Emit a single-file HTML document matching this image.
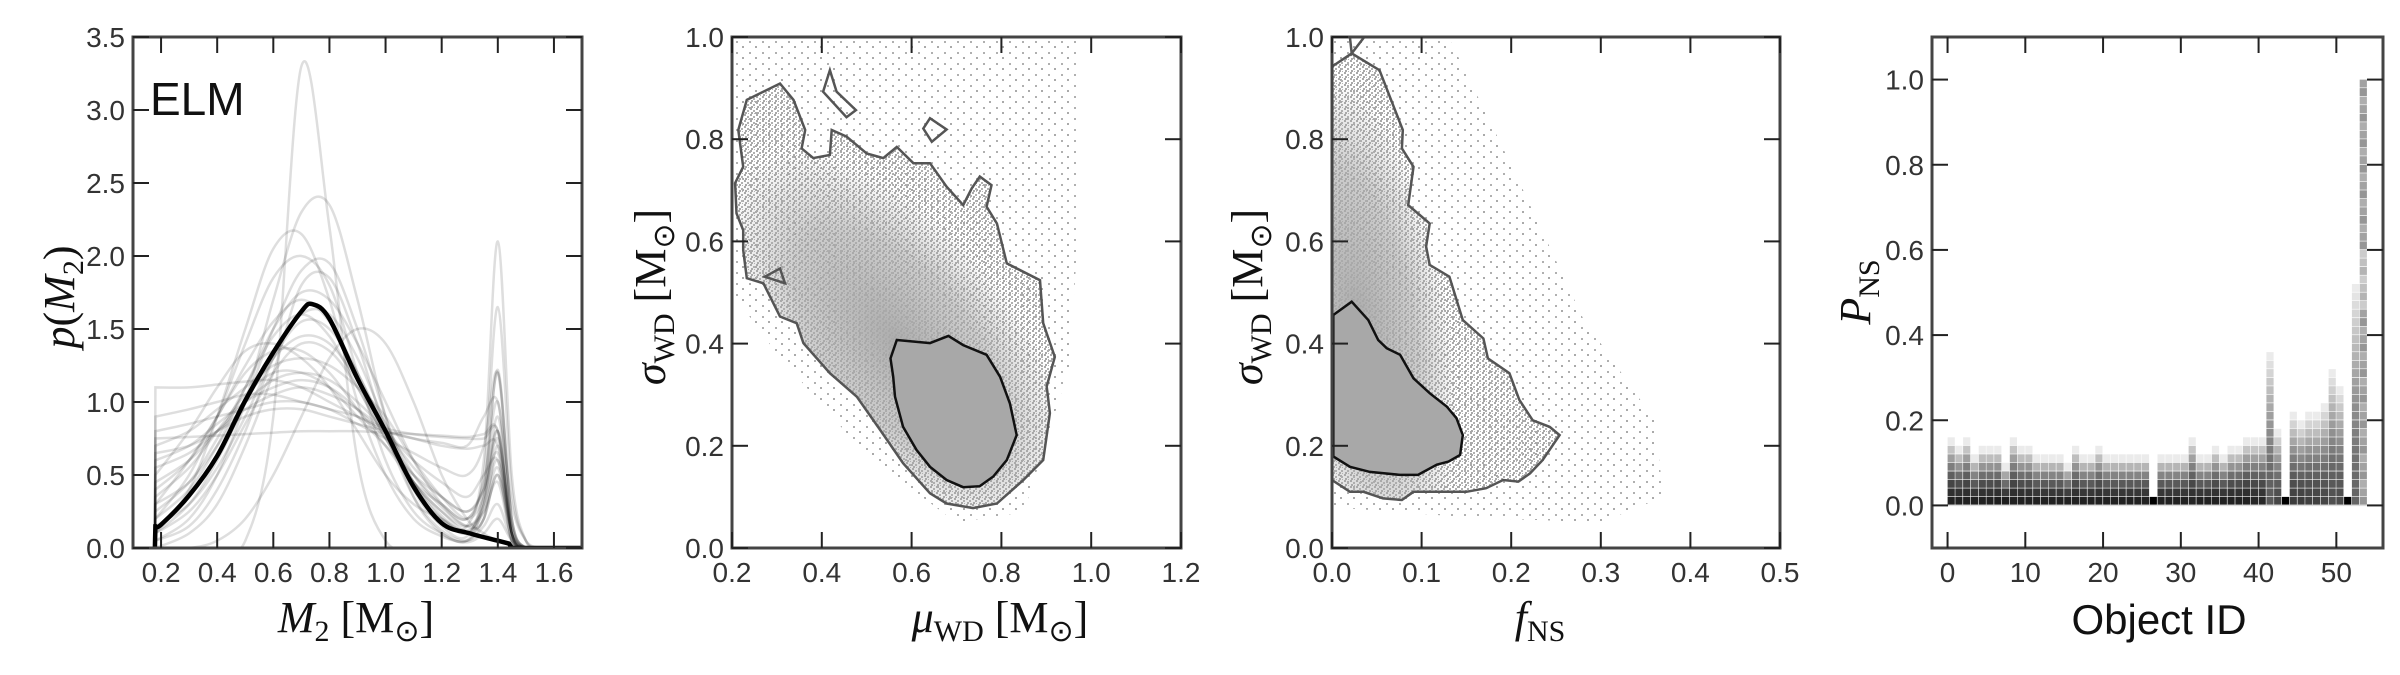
<!DOCTYPE html>
<html><head><meta charset="utf-8"><style>
html,body{margin:0;padding:0;background:#fff;}
svg{display:block;}
text{font-family:"Liberation Sans",sans-serif;}
.tk{font-size:28px;fill:#333;}
.ser{font-family:"Liberation Serif",serif;}
</style></head>
<body>
<svg id="chart" width="2400" height="675" viewBox="0 0 2400 675" xmlns="http://www.w3.org/2000/svg">
<defs>
<pattern id="dotsMid" width="6" height="6" patternUnits="userSpaceOnUse">
<rect x="0" y="0" width="2" height="2" fill="#a9a9a9"/><rect x="3" y="2" width="2" height="2" fill="#b0b0b0"/><rect x="1" y="4" width="2" height="2" fill="#a9a9a9"/><rect x="4" y="5" width="1" height="1" fill="#b5b5b5"/>
</pattern>
<pattern id="dotsSparse" width="13" height="11" patternUnits="userSpaceOnUse">
<rect x="1" y="2" width="2" height="2" fill="#aaa"/><rect x="8" y="8" width="2" height="2" fill="#b0b0b0"/>
</pattern>
<radialGradient id="g2" cx="0.5" cy="0.5" r="0.5"><stop offset="0" stop-color="#a8a8a8" stop-opacity="0.95"/><stop offset="0.6" stop-color="#aaa" stop-opacity="0.6"/><stop offset="1" stop-color="#aaa" stop-opacity="0"/></radialGradient>
</defs>
</svg>
<script>
// ---------- Panel 1 data ----------
const p1Grid = [0.18,0.3,0.4,0.5,0.6,0.7,0.8,0.9,1.0,1.1,1.2,1.29,1.35,1.4,1.45,1.5,1.55];
const p1Curves = [
 [0,0,0,0.05,0.9,3.3,2.2,0.6,0.05,0,0,0,0,0,0,0,0],
 [0.05,0.2,0.5,1.0,1.7,2.3,2.35,1.7,0.9,0.35,0.1,0.05,0.2,0.5,0.1,0,0],
 [0.1,0.4,0.9,1.5,2.05,2.15,1.7,1.0,0.5,0.2,0.08,0.04,0.1,0.2,0.05,0,0],
 [0.2,0.5,0.9,1.4,1.85,2.0,1.8,1.2,0.6,0.25,0.1,0.05,0.3,0.8,0.1,0,0],
 [0.1,0.3,0.6,1.0,1.5,1.9,1.95,1.5,0.9,0.4,0.15,0.08,0.4,1.2,0.2,0,0],
 [0.75,0.76,0.77,0.78,0.79,0.8,0.8,0.8,0.79,0.78,0.77,0.76,0.78,0.8,0.1,0,0],
 [1.1,1.1,1.12,1.14,1.15,1.1,1.0,0.9,0.8,0.75,0.72,0.7,0.9,1.0,0.3,0.05,0],
 [0,0,0.05,0.2,0.5,0.9,1.3,1.5,1.4,1.0,0.5,0.2,0.1,0.05,0.02,0,0],
 [0.5,0.8,1.1,1.35,1.4,1.3,1.1,0.8,0.5,0.3,0.2,0.15,0.6,2.1,0.5,0.05,0],
 [0.3,0.6,0.9,1.2,1.35,1.35,1.2,0.95,0.7,0.45,0.3,0.2,0.5,1.65,0.4,0.05,0],
 [0.9,0.95,1.0,1.05,1.05,1.0,0.95,0.85,0.75,0.65,0.55,0.5,0.7,1.2,0.2,0,0],
 [0.6,0.7,0.85,1.0,1.1,1.15,1.1,0.95,0.75,0.5,0.3,0.2,0.45,1.0,0.1,0,0],
 [0.2,0.4,0.7,1.1,1.5,1.75,1.7,1.4,1.0,0.6,0.3,0.15,0.2,0.7,0.1,0,0],
 [0.4,0.6,0.9,1.25,1.55,1.7,1.55,1.2,0.8,0.45,0.22,0.1,0.2,0.5,0.05,0,0],
 [0.05,0.15,0.4,0.8,1.3,1.6,1.6,1.3,0.85,0.45,0.2,0.1,0.3,0.6,0.1,0,0],
 [0.8,0.85,0.9,0.95,1.0,1.0,0.95,0.9,0.82,0.78,0.76,0.75,0.75,0.8,0.15,0,0],
 [0.7,0.8,0.95,1.1,1.25,1.3,1.25,1.1,0.9,0.6,0.35,0.2,0.35,0.75,0.1,0,0],
 [0.15,0.3,0.55,0.9,1.3,1.55,1.5,1.2,0.8,0.4,0.2,0.1,0.25,0.55,0.05,0,0],
 [0.35,0.55,0.8,1.05,1.2,1.2,1.1,0.9,0.7,0.5,0.35,0.25,0.4,0.8,0.1,0,0],
 [0.0,0.1,0.3,0.7,1.2,1.8,1.85,1.4,0.8,0.35,0.12,0.05,0.15,0.3,0.05,0,0],
 [0.25,0.45,0.75,1.1,1.45,1.6,1.45,1.1,0.75,0.45,0.25,0.15,0.35,1.22,0.2,0,0],
 [0.65,0.7,0.8,0.9,0.95,0.95,0.9,0.85,0.8,0.75,0.7,0.68,0.7,0.7,0.1,0,0],
 [0.45,0.6,0.8,1.0,1.15,1.2,1.15,1.0,0.8,0.55,0.35,0.25,0.4,0.65,0.1,0,0],
 [0.1,0.25,0.5,0.85,1.2,1.4,1.35,1.1,0.75,0.45,0.25,0.12,0.3,0.9,0.15,0,0],
 [0.55,0.65,0.8,0.95,1.05,1.1,1.05,0.95,0.8,0.6,0.45,0.35,0.5,0.6,0.1,0,0],
 [0.3,0.45,0.7,1.0,1.3,1.45,1.4,1.15,0.85,0.5,0.28,0.15,0.25,0.45,0.05,0,0]
];
const p1MeanX = [0.18,0.2,0.3,0.4,0.5,0.6,0.7,0.74,0.8,0.9,1.0,1.1,1.2,1.3,1.4,1.44];
const p1MeanY = [0.15,0.16,0.36,0.63,1.01,1.34,1.62,1.67,1.57,1.16,0.8,0.42,0.17,0.1,0.05,0.03];
const p1XTicks = [0.2,0.4,0.6,0.8,1.0,1.2,1.4,1.6];
const p1YTicks = [0,0.5,1.0,1.5,2.0,2.5,3.0,3.5];

// ---------- Panel 2 data (mu_WD vs sigma_WD) ----------
const p2OuterX = [0.233,0.307,0.337,0.363,0.355,0.381,0.418,0.422,0.455,0.5,0.537,0.567,0.604,0.641,0.678,0.715,0.734,0.752,0.778,0.767,0.79,0.812,0.886,0.893,0.919,0.901,0.908,0.893,0.849,0.79,0.737,0.678,0.641,0.581,0.53,0.478,0.418,0.359,0.344,0.307,0.27,0.233,0.225,0.225,0.21,0.207,0.225,0.214];
const p2OuterY = [0.877,0.909,0.877,0.818,0.782,0.763,0.769,0.818,0.805,0.772,0.763,0.785,0.753,0.753,0.707,0.671,0.704,0.727,0.71,0.668,0.635,0.557,0.524,0.44,0.374,0.316,0.264,0.172,0.133,0.087,0.078,0.087,0.107,0.166,0.231,0.296,0.342,0.401,0.44,0.453,0.518,0.528,0.583,0.622,0.655,0.714,0.746,0.818];
const p2InnerX = [0.567,0.641,0.682,0.715,0.767,0.797,0.819,0.834,0.812,0.782,0.752,0.715,0.678,0.641,0.611,0.581,0.563,0.559,0.553];
const p2InnerY = [0.407,0.401,0.415,0.397,0.378,0.335,0.283,0.221,0.172,0.14,0.121,0.119,0.133,0.159,0.192,0.237,0.296,0.335,0.371];
const p2IslandAX = [0.403,0.418,0.433,0.476,0.455], p2IslandAY = [0.893,0.935,0.893,0.857,0.843];
const p2IslandBX = [0.626,0.641,0.678,0.645], p2IslandBY = [0.821,0.841,0.819,0.795];
const p2IslandCX = [0.273,0.307,0.318], p2IslandCY = [0.531,0.547,0.518];
const p2HaloX = [0.2,0.97,0.97,0.95,0.85,0.7,0.5,0.3,0.2];
const p2HaloY = [1.0,1.0,0.6,0.35,0.07,0.05,0.18,0.38,0.5];
const p2XTicks = [0.2,0.4,0.6,0.8,1.0,1.2];
const p2YTicks = [0,0.2,0.4,0.6,0.8,1.0];

// ---------- Panel 3 data (f_NS vs sigma_WD) ----------
const p3OuterX = [0,0.022,0.053,0.079,0.078,0.091,0.085,0.109,0.105,0.109,0.131,0.146,0.169,0.174,0.198,0.209,0.224,0.243,0.254,0.235,0.221,0.208,0.191,0.172,0.15,0.12,0.091,0.078,0.057,0.035,0.02,0.0];
const p3OuterY = [0.942,0.968,0.935,0.818,0.782,0.746,0.671,0.635,0.59,0.554,0.531,0.446,0.41,0.371,0.342,0.29,0.25,0.237,0.221,0.172,0.146,0.13,0.133,0.117,0.11,0.11,0.11,0.094,0.097,0.11,0.11,0.133];
const p3InnerX = [0.0015,0.022,0.0405,0.0516,0.061,0.076,0.091,0.109,0.128,0.139,0.146,0.143,0.13,0.117,0.096,0.076,0.0423,0.0201,0.0015];
const p3InnerY = [0.456,0.482,0.446,0.407,0.391,0.378,0.332,0.303,0.277,0.254,0.221,0.182,0.169,0.163,0.143,0.143,0.149,0.159,0.179];
const p3HaloX = [0,0.13,0.2,0.28,0.36,0.37,0.3,0.15,0];
const p3HaloY = [1.0,1.0,0.75,0.45,0.25,0.1,0.05,0.06,0.08];
const p3XTicks = [0,0.1,0.2,0.3,0.4,0.5];
const p3YTicks = [0,0.2,0.4,0.6,0.8,1.0];

// ---------- Panel 4 data (heatmap) ----------
const p4Heights = [0.16,0.14,0.16,0.12,0.14,0.14,0.14,0.10,0.16,0.14,0.14,0.12,0.12,0.12,0.12,0.10,0.14,0.12,0.12,0.14,0.12,0.12,0.12,0.12,0.12,0.12,0.02,0.12,0.12,0.12,0.12,0.16,0.12,0.12,0.14,0.12,0.14,0.14,0.16,0.16,0.16,0.36,0.18,0.02,0.22,0.20,0.22,0.22,0.24,0.32,0.28,0.02,0.52,1.00];
const p4BottomGray = [34,34,34,34,34,34,30,30,34,34,34,34,34,34,34,34,34,34,34,34,34,34,34,34,34,34,0,34,34,34,34,38,34,34,34,34,34,34,34,38,40,90,70,0,60,60,64,64,70,80,76,0,100,150];
const p4XTicks = [0,10,20,30,40,50];
const p4YTicks = [0,0.2,0.4,0.6,0.8,1.0];

// ---------- rendering ----------
const NS='http://www.w3.org/2000/svg';
const svg=document.getElementById('chart');
function mk(tag,attrs,parent){const e=document.createElementNS(NS,tag);for(const k in attrs)e.setAttribute(k,attrs[k]);(parent||svg).appendChild(e);return e;}
function panel(x0,x1,xmin,xmax,ymin,ymax){const y0=37,y1=548;return {x0,x1,y0,y1,sx:v=>x0+(v-xmin)/(xmax-xmin)*(x1-x0),sy:v=>y1-(v-ymin)/(ymax-ymin)*(y1-y0)};}
const P1=panel(133,582,0.1,1.7,0,3.5);
const P2=panel(732,1181,0.2,1.2,0,1);
const P3=panel(1332,1780,0,0.5,0,1);
const P4=panel(1932,2383,-2,56,-0.1,1.1);

function clipFor(P,id){const d=svg.querySelector('defs');const c=mk('clipPath',{id:id},d);mk('rect',{x:P.x0,y:P.y0,width:P.x1-P.x0,height:P.y1-P.y0},c);return 'url(#'+id+')';}
function smooth(pts){let d='M'+pts[0][0].toFixed(1)+','+pts[0][1].toFixed(1);
 for(let i=0;i<pts.length-1;i++){const p0=pts[Math.max(0,i-1)],p1=pts[i],p2=pts[i+1],p3=pts[Math.min(pts.length-1,i+2)];
  const c1=[p1[0]+(p2[0]-p0[0])/6,p1[1]+(p2[1]-p0[1])/6],c2=[p2[0]-(p3[0]-p1[0])/6,p2[1]-(p3[1]-p1[1])/6];
  d+='C'+c1[0].toFixed(1)+','+c1[1].toFixed(1)+' '+c2[0].toFixed(1)+','+c2[1].toFixed(1)+' '+p2[0].toFixed(1)+','+p2[1].toFixed(1);}
 return d;}
function poly(P,xs,ys){return xs.map((x,i)=>P.sx(x).toFixed(1)+','+P.sy(ys[i]).toFixed(1)).join(' ');}

function axes(P,name,xt,yt,fmtx,fmty){
 const g=mk('g',{});
 
 
 const fr=mk('rect',{x:P.x0,y:P.y0,width:P.x1-P.x0,height:P.y1-P.y0,fill:'none',stroke:'#444','stroke-width':3},g);
 
 
 xt.forEach(v=>{const x=P.sx(v);
  mk('line',{x1:x,x2:x,y1:P.y1,y2:P.y1-16,stroke:'#222','stroke-width':2},g);
  mk('line',{x1:x,x2:x,y1:P.y0,y2:P.y0+16,stroke:'#222','stroke-width':2},g);
  const t=mk('text',{x:x,y:582,'text-anchor':'middle',class:'tk'},g);t.textContent=fmtx(v);
  
  });
 yt.forEach(v=>{const y=P.sy(v);
  mk('line',{x1:P.x0,x2:P.x0+16,y1:y,y2:y,stroke:'#222','stroke-width':2},g);
  mk('line',{x1:P.x1,x2:P.x1-16,y1:y,y2:y,stroke:'#222','stroke-width':2},g);
  const t=mk('text',{x:P.x0-8,y:y+10,'text-anchor':'end',class:'tk'},g);t.textContent=fmty(v);
  
  });
}
const f1=v=>v.toFixed(1), f0=v=>String(v);

// Panel 1
{const cp=clipFor(P1,'c1');const g=mk('g',{'clip-path':cp});
 
 
 p1Curves.forEach((ys,k)=>{const pts=p1Grid.map((x,i)=>[P1.sx(x),P1.sy(ys[i])]);
  let d='M'+P1.sx(0.178).toFixed(1)+','+P1.sy(0).toFixed(1)+'L'+smooth(pts).slice(1)+'L'+P1.sx(1.7)+','+P1.sy(0);
  const p=mk('path',{d:d,fill:'none',stroke:'rgba(0,0,0,0.13)','stroke-width':2.5},g);
  
  });
 const pts=p1MeanX.map((x,i)=>[P1.sx(x),P1.sy(p1MeanY[i])]);
 const d='M'+P1.sx(0.178).toFixed(1)+','+P1.sy(0).toFixed(1)+'L'+smooth(pts).slice(1)+'L'+P1.sx(1.45)+','+P1.sy(0)+'L'+P1.sx(1.7)+','+P1.sy(0);
 const m=mk('path',{d:d,fill:'none',stroke:'#000','stroke-width':4.5},g);
 
 
}
axes(P1,'panel1',p1XTicks,p1YTicks,f1,f1);
{const t=mk('text',{x:150,y:115,'font-size':46,fill:'#111'});t.textContent='ELM';
 
 }

// Panel 2 & 3 scatter/contours
function scatterPanel(P,id,name,hx,hy,ox,oy,ix,iy,blob){
 const cp=clipFor(P,id);const g=mk('g',{'clip-path':cp});
 
 
 const h=mk('polygon',{points:poly(P,hx,hy),fill:'url(#dotsSparse)'},g);
 
 
 const o=mk('polygon',{points:poly(P,ox,oy),fill:'url(#dotsMid)'},g);
 
 
 const defs=svg.querySelector('defs');
 const oc2=mk('clipPath',{id:id+'o'},defs);
 mk('polygon',{points:poly(P,ox,oy)},oc2);
 const cx=P.sx(blob[0]),cy=P.sy(blob[1]);
 const bg=mk('g',{'clip-path':'url(#'+id+'o)'},g);
 const b=mk('ellipse',{cx:cx,cy:cy,rx:blob[2],ry:blob[3],fill:'url(#g2)',transform:'rotate('+blob[4]+' '+cx+' '+cy+')'},bg);
 
 
 const i=mk('polygon',{points:poly(P,ix,iy),fill:'#a8a8a8'},g);
 
 
 const oc=mk('polygon',{points:poly(P,ox,oy),fill:'none',stroke:'#555','stroke-width':2.5},g);
 
 
 const ic=mk('polygon',{points:poly(P,ix,iy),fill:'none',stroke:'#111','stroke-width':2.5},g);
 
 
 return g;}
{const g=scatterPanel(P2,'c2','panel2',p2HaloX,p2HaloY,p2OuterX,p2OuterY,p2InnerX,p2InnerY,[0.57,0.4,230,115,50]);
 [[p2IslandAX,p2IslandAY],[p2IslandBX,p2IslandBY],[p2IslandCX,p2IslandCY]].forEach((a,k)=>{
  const e=mk('polygon',{points:poly(P2,a[0],a[1]),fill:'none',stroke:'#555','stroke-width':2.5},g);
  
  });}
{const g=scatterPanel(P3,'c3','panel3',p3HaloX,p3HaloY,p3OuterX,p3OuterY,p3InnerX,p3InnerY,[0.03,0.45,250,90,80]);
 const e=mk('polyline',{points:poly(P3,[0.036,0.022,0.02],[1.0,0.968,1.0]),fill:'none',stroke:'#555','stroke-width':2.5},g);
 
 }
axes(P2,'panel2',p2XTicks,p2YTicks,f1,f1);
axes(P3,'panel3',p3XTicks,p3YTicks,f1,f1);

// Panel 4 heatmap
{const cp=clipFor(P4,'c4');const g=mk('g',{'clip-path':cp});
 
 
 const bin=0.02;
 p4Heights.forEach((hgt,i)=>{const n=Math.round(hgt/bin);const base=p4BottomGray[i];
  for(let j=0;j<n;j++){const f=n>1?j/(n-1):0;
   let gv;
   if(base===0) gv=0;
   else if(base>120) gv=Math.round(base+ (j%3)*12 + (f>0.45&&f<0.6?30:0));
   else gv=Math.round(base+(235-base)*Math.pow(f,1.4));
   const x=P4.sx(i),x2=P4.sx(i+1),y=P4.sy((j+1)*bin),y2=P4.sy(j*bin);
   const r=mk('rect',{x:x.toFixed(1),y:y.toFixed(1),width:(x2-x-0.6).toFixed(1),height:(y2-y-0.6).toFixed(1),fill:'rgb('+gv+','+gv+','+gv+')'},g);
   
   }});
 const zl=mk('line',{x1:P4.x0,x2:P4.x1,y1:P4.sy(0),y2:P4.sy(0),stroke:'#ddd','stroke-width':1.5},g);
 
 
}
axes(P4,'panel4',p4XTicks,p4YTicks,f0,f1);
</script>
<div style="position:absolute;left:0;top:0;width:2400px;height:675px;pointer-events:none">
<svg width="2400" height="675" style="position:absolute;left:0;top:0">
 <text class="ser" x="356" y="632" text-anchor="middle" font-size="44" fill="#111"><tspan font-style="italic">M</tspan><tspan font-size="30" dy="9">2</tspan><tspan dy="-9"> [M</tspan><tspan font-size="30" dy="9">⊙</tspan><tspan dy="-9">]</tspan></text>
 <text class="ser" x="1000" y="632" text-anchor="middle" font-size="44" fill="#111"><tspan font-style="italic">μ</tspan><tspan font-size="30" dy="9">WD</tspan><tspan dy="-9"> [M</tspan><tspan font-size="30" dy="9">⊙</tspan><tspan dy="-9">]</tspan></text>
 <text class="ser" x="1540" y="632" text-anchor="middle" font-size="44" fill="#111"><tspan font-style="italic">f</tspan><tspan font-size="30" dy="9">NS</tspan></text>
 <text x="2159" y="634" text-anchor="middle" font-size="42" fill="#111">Object ID</text>
 <text class="ser" transform="translate(74,297) rotate(-90)" text-anchor="middle" font-size="44" fill="#111"><tspan font-style="italic">p</tspan><tspan>(</tspan><tspan font-style="italic">M</tspan><tspan font-size="30" dy="9">2</tspan><tspan dy="-9">)</tspan></text>
 <text class="ser" transform="translate(665,297) rotate(-90)" text-anchor="middle" font-size="44" fill="#111"><tspan font-style="italic">σ</tspan><tspan font-size="30" dy="9">WD</tspan><tspan dy="-9"> [M</tspan><tspan font-size="30" dy="9">⊙</tspan><tspan dy="-9">]</tspan></text>
 <text class="ser" transform="translate(1262,297) rotate(-90)" text-anchor="middle" font-size="44" fill="#111"><tspan font-style="italic">σ</tspan><tspan font-size="30" dy="9">WD</tspan><tspan dy="-9"> [M</tspan><tspan font-size="30" dy="9">⊙</tspan><tspan dy="-9">]</tspan></text>
 <text class="ser" transform="translate(1870,292) rotate(-90)" text-anchor="middle" font-size="44" fill="#111"><tspan font-style="italic">P</tspan><tspan font-size="30" dy="9">NS</tspan></text>
</svg>
</div>
</body></html>
